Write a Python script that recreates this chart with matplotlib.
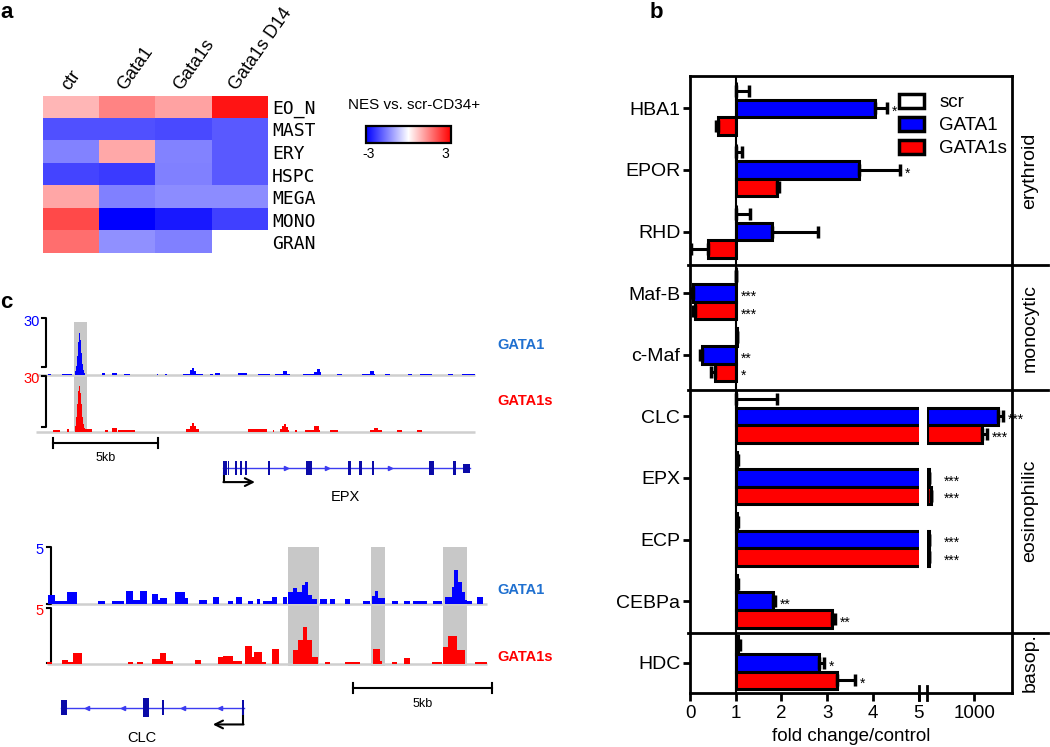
import numpy as np
import matplotlib
matplotlib.use('Agg')
import matplotlib.pyplot as plt
from matplotlib.patches import Patch
from matplotlib.lines import Line2D
from matplotlib.transforms import blended_transform_factory

plt.rcParams['font.family'] = ['Liberation Sans', 'DejaVu Sans']

# ─────────────────────────────────────────────
# Panel a: NES heatmap
# ─────────────────────────────────────────────
nes_cols = ['ctr', 'Gata1', 'Gata1s', 'Gata1s D14']
nes_rows = ['EO_N', 'MAST', 'ERY', 'HSPC', 'MEGA', 'MONO', 'GRAN']
nes_ctr = [0.85, -2.05, -1.47, -2.2, 1.05, 2.13, 1.7]
nes_gata1 = [1.43, -2.05, 1.02, -2.3, -1.5, -3.0, -1.3]
nes_gata1s = [1.08, -2.13, -1.47, -1.5, -1.35, -2.7, -1.5]
nes_gata1s_d14 = [2.75, -1.94, -1.94, -1.94, -1.35, -2.25, np.nan]

# ─────────────────────────────────────────────
# Panel b: qPCR fold change
# ─────────────────────────────────────────────
genes = ['HBA1', 'EPOR', 'RHD', 'Maf-B', 'c-Maf', 'CLC', 'EPX', 'ECP', 'CEBPa', 'HDC']
scr_mean = [1.0, 1.0, 1.0, 1.0, 1.02, 1.0, 1.02, 1.02, 1.03, 1.05]
scr_err = [0.3, 0.14, 0.32, 0.0, 0.01, 0.9, 0.02, 0.02, 0.02, 0.05]
gata1_mean = [4.05, 3.70, 1.80, 0.07, 0.27, 1490, 45, 60, 1.81, 2.81]
gata1_err = [0.25, 0.90, 1.0, 0.03, 0.06, 110, 0, 0, 0.04, 0.12]
gata1s_mean = [0.62, 1.90, 0.40, 0.11, 0.55, 1157, 90, 55, 3.11, 3.21]
gata1s_err = [0.05, 0.05, 0.38, 0.04, 0.1, 105, 0, 0, 0.05, 0.4]
gata1_sig = ['*', '*', '', '***', '**', '***', '***', '***', '**', '*']
gata1s_sig = ['', '', '', '***', '*', '***', '***', '***', '**', '*']
sections = ['erythroid', 'monocytic', 'eosinophilic', 'basop.']

# ─────────────────────────────────────────────
# Panel c: ChIP-seq tracks (start kb, end kb, signal)
# ─────────────────────────────────────────────
epx_gata1 = [
    (0.29, 0.43, 0.8), (0.95, 1.43, 0.8),
    (1.57, 1.62, 2), (1.62, 1.67, 5), (1.67, 1.71, 10), (1.71, 1.76, 18),
    (1.76, 1.81, 22.8), (1.81, 1.86, 19), (1.86, 1.90, 12), (1.90, 1.95, 6),
    (1.95, 2.00, 3), (2.00, 2.05, 1),
    (2.86, 3.00, 1.0), (3.33, 3.57, 1.3), (3.90, 4.19, 0.8), (5.48, 5.52, 0.8),
    (5.86, 5.95, 0.8), (6.71, 7.05, 0.8), (7.05, 7.14, 2.5), (7.14, 7.24, 4),
    (7.24, 7.33, 2), (7.33, 7.67, 0.8), (8.0, 8.14, 0.8), (8.24, 8.48, 1.0),
    (9.33, 9.76, 1.2), (10.29, 10.86, 0.8), (11.1, 11.48, 0.8), (11.48, 11.67, 2.2),
    (11.67, 11.81, 0.8), (12.43, 12.95, 0.8), (12.95, 13.1, 1.8), (13.1, 13.24, 3.2),
    (13.24, 13.29, 1.5), (14.05, 14.29, 0.8), (15.24, 15.62, 0.8), (15.62, 15.81, 2.0),
    (15.81, 15.86, 0.8), (16.33, 16.57, 0.8), (17.43, 17.62, 0.8), (18.0, 18.57, 0.8),
    (19.33, 19.57, 0.8), (20.0, 20.62, 0.8),
]
epx_gata1s = [
    (0.52, 0.86, 0.8), (1.19, 1.29, 1.2),
    (1.57, 1.62, 3), (1.62, 1.67, 8), (1.67, 1.71, 15), (1.71, 1.76, 22),
    (1.76, 1.81, 24.6), (1.81, 1.86, 21), (1.86, 1.90, 15), (1.90, 1.95, 8),
    (1.95, 2.00, 4), (2.00, 2.05, 2), (2.05, 2.38, 1.2),
    (3.0, 3.14, 0.8), (3.33, 3.57, 1.8), (3.62, 4.43, 0.8),
    (6.86, 7.05, 1.5), (7.05, 7.14, 3), (7.14, 7.24, 4.5), (7.24, 7.33, 3), (7.33, 7.48, 1.2),
    (9.81, 10.71, 1.2), (11.0, 11.05, 0.8), (11.33, 11.43, 1.5), (11.43, 11.52, 3),
    (11.52, 11.62, 4.2), (11.62, 11.71, 2.5), (11.71, 11.76, 1), (12.05, 12.14, 0.8),
    (12.52, 12.95, 0.8), (12.95, 13.19, 2.8), (13.19, 13.24, 0.8), (13.71, 14.1, 0.8),
    (15.62, 15.81, 1.0), (15.81, 16.0, 2.2), (16.0, 16.19, 1), (16.9, 17.14, 0.8),
    (17.86, 18.1, 0.8),
]
epx_exons = [(8.60, 8.79), (8.84, 8.92), (9.19, 9.30), (9.43, 9.53), (9.67, 9.77),
             (10.75, 10.86), (12.57, 12.87), (14.59, 14.71), (15.10, 15.25),
             (15.70, 15.82), (18.44, 18.68), (19.56, 19.70), (20.03, 20.38)]
epx_chevrons = [11.62, 13.56, 16.57]
epx_highlights = [(1.52, 2.16)]

clc_gata1 = [
    (0.08, 0.32, 0.8), (0.32, 0.74, 0.2), (0.74, 1.10, 1.0), (1.88, 2.12, 0.2),
    (2.36, 2.80, 0.2), (2.87, 3.13, 1.15), (3.13, 3.37, 0.3), (3.37, 3.61, 1.15),
    (3.79, 4.03, 0.85), (4.03, 4.09, 0.3), (4.09, 4.33, 0.5), (4.63, 4.99, 1.0),
    (4.99, 5.10, 0.5), (5.49, 5.77, 0.3), (5.99, 6.21, 0.6), (6.53, 6.71, 0.2),
    (6.82, 7.02, 0.55), (7.25, 7.43, 0.2), (7.56, 7.68, 0.4), (7.79, 8.10, 0.2),
    (8.10, 8.30, 0.6), (8.50, 8.66, 0.6), (8.69, 8.88, 1.0), (8.88, 9.01, 1.35),
    (9.01, 9.18, 1.0), (9.18, 9.30, 1.6), (9.30, 9.42, 1.9), (9.42, 9.54, 0.8),
    (9.54, 9.72, 0.4), (9.83, 10.08, 0.4), (10.19, 10.37, 0.4), (10.73, 10.91, 0.4),
    (11.38, 11.63, 0.2), (11.69, 11.80, 0.7), (11.80, 11.93, 1.1), (11.93, 12.17, 0.5),
    (12.41, 12.65, 0.2), (12.86, 13.07, 0.2), (13.17, 13.68, 0.2), (13.89, 14.20, 0.2),
    (14.32, 14.56, 0.6), (14.56, 14.65, 1.5), (14.65, 14.80, 2.95), (14.80, 14.92, 1.9),
    (14.92, 15.04, 1.0), (15.04, 15.10, 0.3), (15.10, 15.28, 0.2), (15.46, 15.70, 0.62),
]
clc_gata1s = [
    (0.03, 0.20, 0.2), (0.56, 0.80, 0.35), (0.80, 0.98, 0.2), (0.98, 1.28, 1.0),
    (2.95, 3.13, 0.15), (3.26, 3.49, 0.15), (3.79, 4.09, 0.42), (4.09, 4.30, 0.95),
    (4.30, 4.57, 0.3), (5.35, 5.56, 0.35), (6.18, 6.36, 0.6), (6.36, 6.72, 0.7),
    (6.72, 7.05, 0.25), (7.14, 7.38, 1.55), (7.38, 7.47, 0.6), (7.47, 7.74, 1.05),
    (7.74, 7.90, 0.2), (8.10, 8.37, 1.35), (8.88, 9.06, 1.2), (9.06, 9.24, 2.1),
    (9.24, 9.36, 3.25), (9.36, 9.54, 2.1), (9.54, 9.77, 0.6), (10.01, 10.19, 0.2),
    (10.73, 11.27, 0.2), (11.73, 11.99, 1.3), (11.99, 12.05, 0.3), (12.41, 12.59, 0.2),
    (12.86, 13.07, 0.5), (13.87, 14.20, 0.2), (14.26, 14.44, 1.5), (14.44, 14.74, 2.45),
    (14.74, 15.04, 1.2), (15.40, 15.82, 0.2),
]
clc_exons = [(0.54, 0.74), (3.47, 3.69), (4.17, 4.25), (7.02, 7.10)]
clc_chevrons = [1.48, 2.77, 4.93, 6.25]
clc_highlights = [(8.70, 9.81), (11.65, 12.18), (14.24, 15.12)]

W, H = 1050, 747
fig = plt.figure(figsize=(W / 100, H / 100), dpi=100)


def fx(px):
    return px / W


def fy(py):
    return 1 - py / H


def add_ax(x0, y0, x1, y1):
    return fig.add_axes([fx(x0), fy(y1), (x1 - x0) / W, (y1 - y0) / H])


BLUE = '#0000ff'
RED = '#ff0000'

# ---------------- panel a ----------------
ax_a = add_ax(43.3, 95.7, 267.7, 253.3)
M = np.array([nes_ctr, nes_gata1, nes_gata1s, nes_gata1s_d14]).T
cmap = plt.get_cmap('bwr').copy()
cmap.set_bad('white')
im = ax_a.imshow(np.ma.masked_invalid(M), cmap=cmap, vmin=-3, vmax=3,
                 aspect='auto', interpolation='nearest')
ax_a.set_xticks([])
ax_a.yaxis.tick_right()
ax_a.set_yticks(range(len(nes_rows)))
ax_a.set_yticklabels(nes_rows, family='DejaVu Sans Mono', fontsize=13)
ax_a.tick_params(axis='y', length=0, pad=3)
for s in ax_a.spines.values():
    s.set_visible(False)
for j, c in enumerate(nes_cols):
    ax_a.text(j - 0.04, -0.7, c, rotation=55, rotation_mode='anchor',
              ha='left', va='baseline', fontsize=13)

fig.text(fx(348), fy(105), 'NES vs. scr-CD34+', fontsize=11, va='center', ha='left')
cax = add_ax(366, 126, 451, 143)
cb = fig.colorbar(im, cax=cax, orientation='horizontal')
cb.set_ticks([-2.85, 2.6], labels=['-3', '3'])
cb.ax.tick_params(length=0, labelsize=10, pad=3)
cb.outline.set_linewidth(1.6)

fig.text(fx(0), fy(2), 'a', fontsize=16, weight='bold', va='top', ha='left')
fig.text(fx(650), fy(2), 'b', fontsize=16, weight='bold', va='top', ha='left')
fig.text(fx(0), fy(292), 'c', fontsize=16, weight='bold', va='top', ha='left')

# ---------------- panel b ----------------
axL = add_ax(690, 76, 918.7, 693)
axR = add_ax(926.7, 76, 1012.3, 693)
for ax in (axL, axR):
    ax.patch.set_visible(False)
ypos = np.arange(len(genes))
bh = 0.285
series = [
    (scr_mean, scr_err, 'white', None, -bh),
    (gata1_mean, gata1_err, BLUE, gata1_sig, 0.0),
    (gata1s_mean, gata1s_err, RED, gata1s_sig, bh),
]
for ax, keep in ((axL, lambda m: m > -1), (axR, lambda m: m > 5)):
    for means, errs, col, sig, off in series:
        means = np.array(means, dtype=float)
        errs = np.array(errs, dtype=float)
        k = keep(means)
        if not k.any():
            continue
        m, e, yy = means[k], errs[k], ypos[k] + off
        ax.barh(yy, m - 1, left=1, height=bh, color=col,
                edgecolor='black', linewidth=2.2, zorder=3)
        lo = np.where(m < 1, e, 0)
        hi = np.where(m >= 1, e, 0)
        ax.errorbar(m, yy, xerr=[lo, hi], fmt='none', ecolor='black',
                    elinewidth=2.2, capsize=4, capthick=2.5, zorder=4)
    ax.set_ylim(9.49, -0.524)

axL.set_xlim(0, 5)
axR.set_xlim(5, 1800)
axL.axvline(1, color='black', lw=1.5, zorder=5)

# significance stars
for means, errs, col, sig, off in series[1:]:
    for i, s in enumerate(sig):
        if not s:
            continue
        m, e = means[i], errs[i]
        if m > 5:
            ax, xe = axR, max(m + e, 270)
        else:
            ax, xe = axL, (m + e if m >= 1 else 1)
        ax.annotate(s, (xe, ypos[i] + off), xytext=(3.5, -5.5), textcoords='offset points',
                    ha='left', va='baseline', fontsize=10, annotation_clip=False, zorder=6)

axL.set_yticks(ypos, genes)
axL.tick_params(axis='y', length=5, width=2, labelsize=14, pad=2)
axL.set_xticks(range(6))
axL.tick_params(axis='x', length=6, width=2, labelsize=13.5, pad=3)
axR.set_xticks([1000])
axR.tick_params(axis='x', length=6, width=2, labelsize=13.5, pad=3)
axR.tick_params(axis='y', left=False, labelleft=False)
for sp in ('top', 'bottom', 'right'):
    axL.spines[sp].set_visible(False)
for sp in ('top', 'bottom', 'left'):
    axR.spines[sp].set_visible(False)
axL.spines['left'].set_linewidth(2)
axR.spines['right'].set_linewidth(2)

# frame lines and axis break
for yy in (76, 693):
    fig.add_artist(Line2D([fx(690), fx(1012.3)], [fy(yy), fy(yy)], color='black', lw=2))
for xx in (918.7, 926.7):
    fig.add_artist(Line2D([fx(xx), fx(xx)], [fy(686), fy(700)], color='black', lw=2))

# section separators and labels
sep_tr = blended_transform_factory(fig.transFigure, axL.transData)
bounds = [-0.524, 2.55, 4.57, 8.51, 9.49]
for b in bounds[1:-1]:
    fig.add_artist(Line2D([fx(688), fx(1048)], [b, b], color='black', lw=2,
                          transform=sep_tr))
lab_tr = blended_transform_factory(axR.transAxes, axR.transData)
for k, name in enumerate(sections):
    axR.text(1.207, (bounds[k] + bounds[k + 1]) / 2, name, rotation=90, ha='center',
             va='center', fontsize=14, transform=lab_tr)

fig.text(fx(851), fy(741), 'fold change/control', fontsize=13.5, ha='center', va='baseline')

handles = [Patch(facecolor='white', edgecolor='black', lw=2.5),
           Patch(facecolor=BLUE, edgecolor='black', lw=2.5),
           Patch(facecolor=RED, edgecolor='black', lw=2.5)]
fig.legend(handles, ['scr', 'GATA1', 'GATA1s'], loc='upper left',
           bbox_to_anchor=(fx(899), fy(94)), frameon=False, fontsize=13.5,
           borderpad=0, borderaxespad=0, labelspacing=0.3, handlelength=1.35,
           handleheight=0.75, handletextpad=0.8)


# ---------------- panel c ----------------
def draw_track(ax, segs, base, vmax, color):
    s = np.array(segs)
    ax.bar(s[:, 0], s[:, 2] / vmax, width=s[:, 1] - s[:, 0], bottom=base,
           align='edge', color=color, linewidth=0, zorder=3)


def draw_region(ax, tracks, track_range, highlights, hl_top, brackets, scale_lbl,
                sbar, exons, exon_h, gene_y, chevrons, chev, tss, gene_name, name_xy,
                lab_x, lab_y):
    for (s, e) in highlights:
        ax.bar(s, hl_top + 0.03, width=e - s, bottom=-0.03, align='edge',
               color='#c8c8c8', linewidth=0, zorder=1)
    for segs, base, vmax, color in tracks:
        ax.plot(track_range, [base, base], color='#cfcfcf', lw=1.8, zorder=2,
                solid_capstyle='butt')
        draw_track(ax, segs, base, vmax, color)
    for (xb, xt, top, bot), (lbl, col) in zip(brackets, scale_lbl):
        ax.plot([xt, xb, xb, xt], [top, top, bot, bot], color='black', lw=1.5)
        ax.text(xt - 0.12, top - 0.06, lbl, color=col, ha='right', va='center', fontsize=10.5)
    x0, x1, yb, cap = sbar
    ax.plot([x0, x1], [yb, yb], color='black', lw=1.5)
    ax.plot([x0, x0], [yb - cap, yb + cap], color='black', lw=1.5)
    ax.plot([x1, x1], [yb - cap, yb + cap], color='black', lw=1.5)
    ax.text((x0 + x1) / 2, yb - 0.27, '5kb', ha='center', va='center', fontsize=9)
    ax.plot([exons[0][0], exons[-1][1]], [gene_y, gene_y], color='#3c3cf0', lw=1)
    for k, (s, e) in enumerate(exons):
        hh = exon_h[k] if k < len(exon_h) else exon_h[-1]
        ax.bar(s, 2 * hh, width=e - s, bottom=gene_y - hh, align='edge',
               color='#0a0aa8', linewidth=0, zorder=3)
    ax.plot(chevrons, [gene_y] * len(chevrons), linestyle='none', marker=chev,
            ms=3, color='#3c3cf0')
    tx, ty0, ty1, tx1 = tss
    ax.plot([tx, tx], [ty0, ty1], color='black', lw=1.5)
    ax.annotate('', xy=(tx1, ty1), xytext=(tx - 0.02 * np.sign(tx1 - tx), ty1),
                arrowprops=dict(arrowstyle='->', lw=1.5, color='black',
                                shrinkA=0, shrinkB=0, mutation_scale=14))
    ax.text(name_xy[0], name_xy[1], gene_name, ha='center', va='center', fontsize=10.5)
    ax.text(lab_x, lab_y[0], 'GATA1', color='#1f70d0', weight='bold', fontsize=10.5,
            ha='left', va='center')
    ax.text(lab_x, lab_y[1], 'GATA1s', color=RED, weight='bold', fontsize=10.5,
            ha='left', va='center')
    ax.axis('off')


ax_c1 = add_ax(0, 300, 560, 505)
ax_c1.set_xlim(-2.0, 24.667)
ax_c1.set_ylim(-1.309, 2.352)
draw_region(ax_c1,
            tracks=[(epx_gata1, 1.01, 30, BLUE), (epx_gata1s, 0.0, 30, RED)],
            track_range=[-0.29, 20.62], highlights=epx_highlights, hl_top=1.96,
            brackets=[(0.18, 0.01, 2.025, 1.16), (0.18, 0.01, 0.995, 0.08)],
            scale_lbl=[('30', BLUE), ('30', RED)],
            sbar=(0.52, 5.52, -0.2, 0.09),
            exons=epx_exons, exon_h=[0.12] * 12 + [0.08], gene_y=-0.65,
            chevrons=epx_chevrons, chev='>', tss=(8.66, -0.74, -0.90, 10.14),
            gene_name='EPX', name_xy=(14.43, -1.17), lab_x=21.67, lab_y=(1.55, 0.55))

ax_c2 = add_ax(0, 530, 560, 747)
ax_c2.set_xlim(-1.651, 18.449)
ax_c2.set_ylim(-1.469, 2.372)
draw_region(ax_c2,
            tracks=[(clc_gata1, 1.07, 5, BLUE), (clc_gata1s, 0.0, 5, RED)],
            track_range=[0.03, 15.82], highlights=clc_highlights, hl_top=2.07,
            brackets=[(0.17, 0.03, 2.07, 1.07), (0.17, 0.03, 1.0, 0.01)],
            scale_lbl=[('5', BLUE), ('5', RED)],
            sbar=(11.01, 16.01, -0.43, 0.09),
            exons=clc_exons, exon_h=[0.13, 0.16, 0.13, 0.13], gene_y=-0.77,
            chevrons=clc_chevrons, chev='<', tss=(7.07, -0.82, -1.07, 5.99),
            gene_name='CLC', name_xy=(3.45, -1.31), lab_x=16.19, lab_y=(1.31, 0.12))

fig.savefig('out.png', dpi=100)
